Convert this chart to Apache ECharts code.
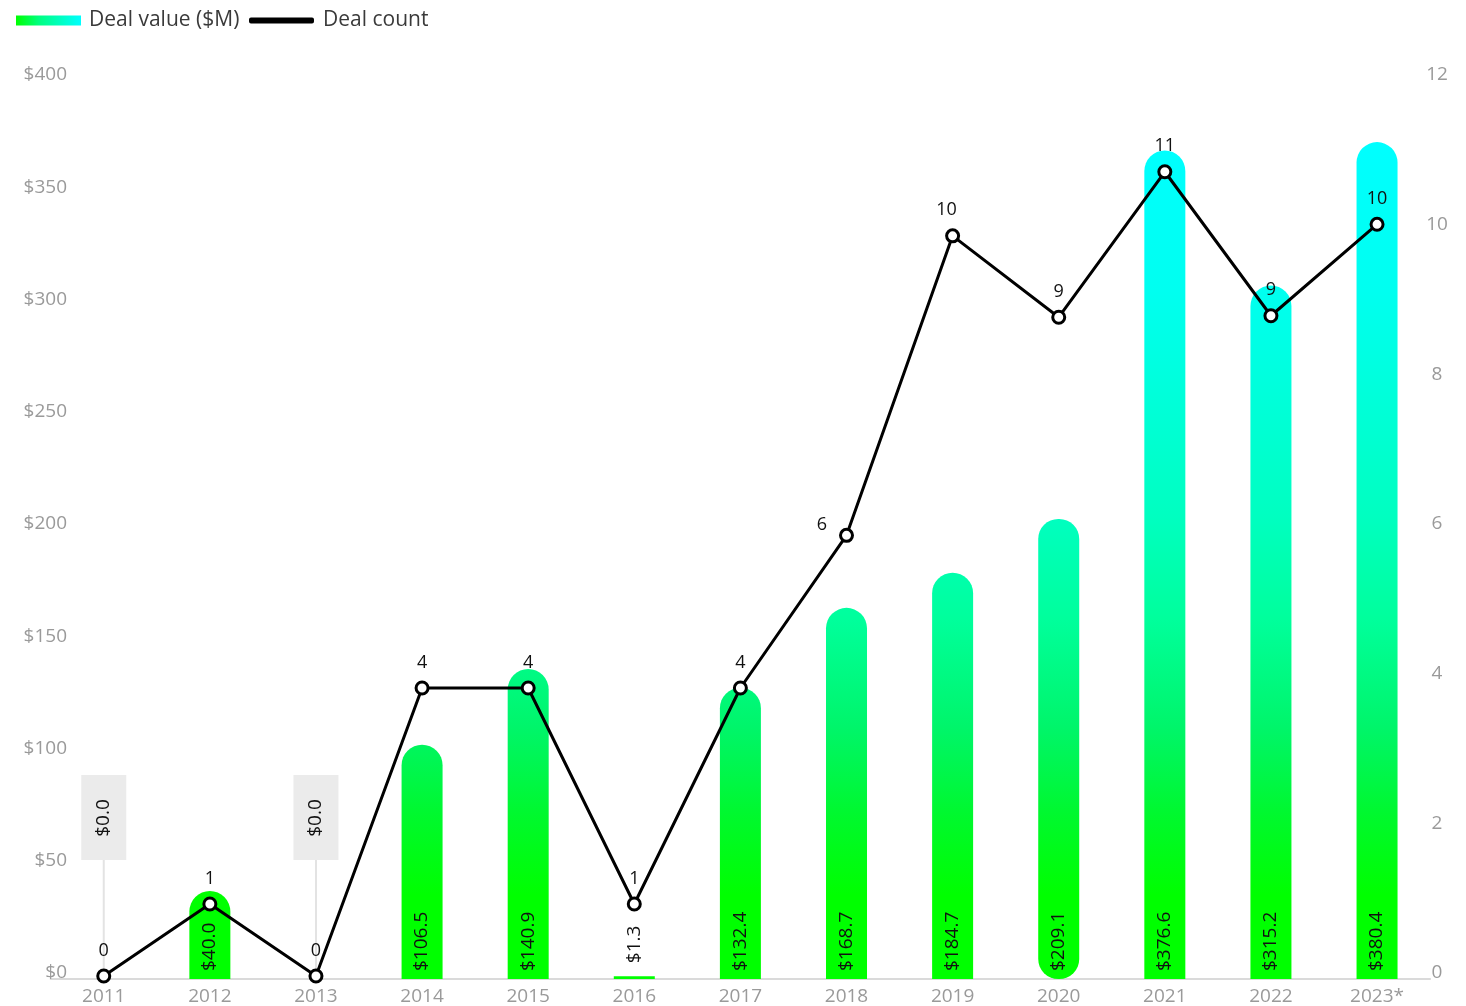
<!DOCTYPE html>
<html>
<head>
<meta charset="utf-8">
<script src="https://cdn.jsdelivr.net/npm/echarts@6/dist/echarts.min.js"></script>
<style>
html,body{margin:0;padding:0;background:#fff;}
#chart{width:1466px;height:1006px;}
</style>
</head>
<body>
<div id="chart"></div>
<script>
const years = ['2011','2012','2013','2014','2015','2016','2017','2018','2019','2020','2021','2022','2023*'];
const dealValue = [0, 40.0, 0, 106.5, 140.9, 1.3, 132.4, 168.7, 184.7, 209.1, 376.6, 315.2, 380.4];
const dealCount = [0, 1, 0, 4, 4, 1, 4, 6.12, 10.28, 9.15, 11.17, 9.17, 10.44];
const valueTicks = [0, 50, 100, 150, 200, 250, 300, 350, 400];
const countTicks = [0, 2, 4, 6, 8, 10, 12];

const FONT = '"Open Sans", "Noto Sans", sans-serif';
const axisGrey = '#9a9a9a';
const FS = 19;

const barGradient = {
  type: 'linear', x: 0, y: 140, x2: 0, y2: 979, global: true,
  colorStops: [
    {offset: 0, color: '#00ffff'},
    {offset: 0.18, color: '#00fff0'},
    {offset: 0.45, color: '#00ffc0'},
    {offset: 0.57, color: '#00ff9c'},
    {offset: 0.7, color: '#00f56a'},
    {offset: 0.8, color: '#00f830'},
    {offset: 0.9, color: '#00ff00'},
    {offset: 1, color: '#00ff00'}
  ]
};

const barData = dealValue.map((v, i) => {
  const item = {value: v};
  if (v > 0 && v < 5) {
    item.itemStyle = {borderRadius: 0};
    item.label = {position: 'top', distance: 13};
  }
  if (years[i] === '2020') {
    item.itemStyle = {borderRadius: 20};
  }
  return item;
});

const countData = dealCount.map((v, i) => {
  const item = {value: v};
  if (years[i] === '2018') item.label = {position: 'left', distance: 12, offset: [0, -10]};
  if (years[i] === '2019') item.label = {offset: [-6, 0]};
  return item;
});

const zeroData = dealValue.map((v, i) => [i, v]).filter(d => d[1] === 0);

const chart = echarts.init(document.getElementById('chart'));
chart.setOption({
  animation: false,
  textStyle: {fontFamily: FONT},
  legend: [
    {
      left: 16, top: 10, padding: 0,
      icon: 'rect', itemWidth: 65, itemHeight: 10,
      textStyle: {fontSize: 21, color: '#3a3a3a', fontFamily: FONT, padding: [0, 0, 0, 3]},
      data: [{name: 'Deal value ($M)', itemStyle: {color: {type: 'linear', x: 0, y: 0, x2: 1, y2: 0, colorStops: [{offset: 0, color: '#00ff00'}, {offset: 0.35, color: '#00ff80'}, {offset: 1, color: '#00ffff'}]}}}]
    },
    {
      left: 249, top: 10, padding: 0,
      icon: 'roundRect', itemWidth: 63, itemHeight: 4,
      textStyle: {fontSize: 21, color: '#3a3a3a', fontFamily: FONT, padding: [0, 0, 0, 5]},
      data: [{name: 'Deal count', itemStyle: {color: '#000'}}]
    }
  ],
  grid: [
    {left: 75, right: 49, top: 75, bottom: 33},
    {left: 50.7, right: 35.9, top: 99, bottom: 27},
    {left: 50.7, right: 35.9, top: 112, bottom: 30}
  ],
  xAxis: [
    {gridIndex: 0, type: 'category', data: years, show: false},
    {
      gridIndex: 1, type: 'category', data: years,
      axisLine: {show: true, lineStyle: {color: '#dadada', width: 2}},
      axisTick: {show: false},
      axisLabel: {color: axisGrey, fontSize: FS, margin: 8, fontFamily: FONT}
    },
    {gridIndex: 2, type: 'category', data: years, show: false}
  ],
  yAxis: [
    {
      gridIndex: 0, type: 'value', position: 'left',
      min: valueTicks[0], max: valueTicks[valueTicks.length - 1], interval: valueTicks[1] - valueTicks[0],
      splitLine: {show: false}, axisLine: {show: false}, axisTick: {show: false},
      axisLabel: {color: axisGrey, fontSize: FS, margin: 8, fontFamily: FONT, formatter: v => '$' + v}
    },
    {
      gridIndex: 0, type: 'value', position: 'right',
      min: countTicks[0], max: countTicks[countTicks.length - 1], interval: countTicks[1] - countTicks[0],
      splitLine: {show: false}, axisLine: {show: false}, axisTick: {show: false},
      axisLabel: {color: axisGrey, fontSize: FS, margin: 20, align: 'center', fontFamily: FONT}
    },
    {gridIndex: 1, type: 'value', min: 0, max: 400, show: false, splitLine: {show: false}},
    {gridIndex: 2, type: 'value', min: 0, max: 12, show: false, splitLine: {show: false}}
  ],
  series: [
    {
      name: 'Deal value ($M)', type: 'bar', xAxisIndex: 1, yAxisIndex: 2,
      barWidth: 41,
      itemStyle: {color: barGradient, borderRadius: [20.5, 20.5, 0, 0]},
      label: {
        show: true, rotate: 90, position: 'insideBottom', distance: 8,
        align: 'left', verticalAlign: 'middle',
        color: '#111', fontSize: FS, fontFamily: FONT,
        formatter: p => p.value === 0 ? '' : '$' + p.value.toFixed(1)
      },
      data: barData,
      z: 2
    },
    {
      name: 'zeroLabels', type: 'custom', xAxisIndex: 1, yAxisIndex: 2,
      data: zeroData, z: 3, silent: true,
      renderItem: (params, api) => {
        const pt = api.coord([api.value(0), 0]);
        return {
          type: 'group',
          children: [
            {type: 'line', shape: {x1: pt[0], y1: pt[1], x2: pt[0], y2: pt[1] - 119}, style: {stroke: '#e3e3e3', lineWidth: 2}},
            {type: 'rect', shape: {x: pt[0] - 22.5, y: pt[1] - 204, width: 45, height: 85}, style: {fill: '#ebebeb'}},
            {type: 'text', x: pt[0], y: pt[1] - 161, rotation: Math.PI / 2,
              style: {text: '$' + api.value(1).toFixed(1), fill: '#111', font: FS + 'px ' + FONT, align: 'center', verticalAlign: 'middle'}}
          ]
        };
      }
    },
    {
      name: 'Deal count', type: 'line', xAxisIndex: 2, yAxisIndex: 3,
      data: countData,
      lineStyle: {color: '#000', width: 3},
      itemStyle: {color: '#fff', borderColor: '#000', borderWidth: 3},
      symbol: 'circle', symbolSize: 12,
      label: {show: true, position: 'top', distance: 9, color: '#111', fontSize: 18, fontFamily: FONT, formatter: p => String(Math.round(p.value))},
      z: 5
    }
  ]
});
</script>
</body>
</html>
